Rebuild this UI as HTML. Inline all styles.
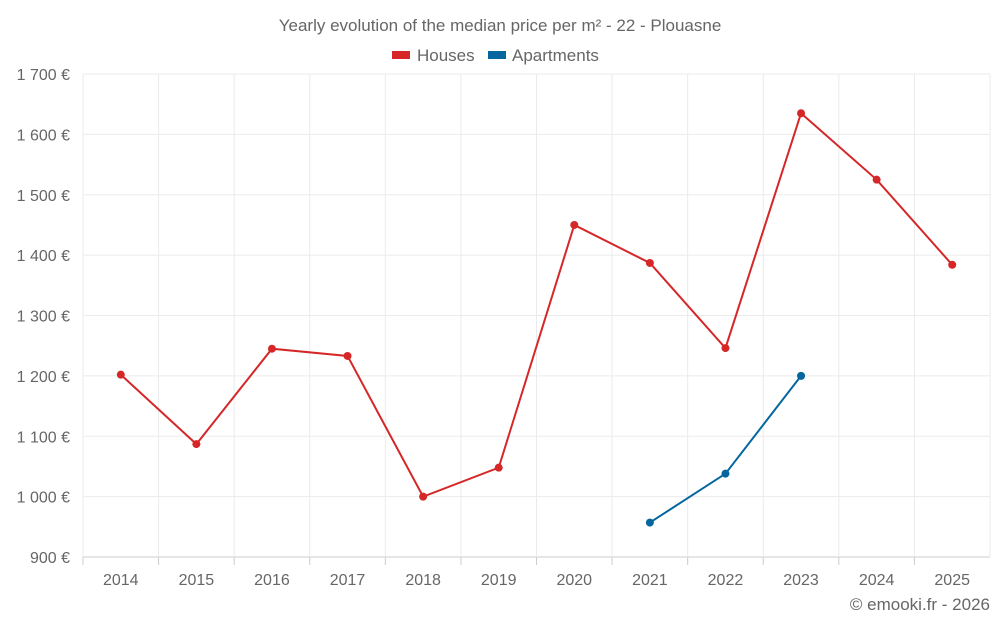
<!DOCTYPE html>
<html><head><meta charset="utf-8"><style>
body{margin:0;background:#fff;}
svg{display:block;font-family:"Liberation Sans",sans-serif;}
</style></head><body>
<svg id="chart" width="1000" height="625">
<text x="500" y="31" text-anchor="middle" font-size="17" fill="#666">Yearly evolution of the median price per m² - 22 - Plouasne</text>
<g><rect x="392" y="51" width="18" height="8" fill="#d62728"/><text x="417" y="61" font-size="17" fill="#666">Houses</text></g>
<g><rect x="488" y="51" width="18" height="8" fill="#03669e"/><text x="512" y="61" font-size="17" fill="#666">Apartments</text></g>
<g id="grid"></g><g id="axes"></g><g id="series"></g>
<text x="990" y="610" text-anchor="end" font-size="17" fill="#666">© emooki.fr - 2026</text>
</svg>
<script>
const categories=["2014","2015","2016","2017","2018","2019","2020","2021","2022","2023","2024","2025"];
const houses=[1202,1087,1245,1233,1000,1048,1450,1387,1246,1635,1525,1384];
const apartments=[null,null,null,null,null,null,null,957,1038,1200,null,null];
const yTicks=[900,1000,1100,1200,1300,1400,1500,1600,1700];
const yTickLabels=["900 €","1 000 €","1 100 €","1 200 €","1 300 €","1 400 €","1 500 €","1 600 €","1 700 €"];
const L=83,R=990,T=74,B=557,ymin=900,ymax=1700;
const NS="http://www.w3.org/2000/svg";
const bw=(R-L)/categories.length;
const x=i=>L+bw*(i+0.5);
const y=v=>B-(v-ymin)/(ymax-ymin)*(B-T);
function mk(tag,attrs,parent){const e=document.createElementNS(NS,tag);for(const k in attrs)e.setAttribute(k,attrs[k]);parent.appendChild(e);return e;}
const grid=document.getElementById('grid'),axes=document.getElementById('axes'),ser=document.getElementById('series');
yTicks.forEach((t,i)=>{
 const l=mk('line',{x1:L,x2:R,y1:y(t),y2:y(t),stroke:i==0?'#ccc':'#ebebeb','stroke-width':1},grid);
 
 
 const tx=mk('text',{x:70,y:y(t)+6,'text-anchor':'end','font-size':16,fill:'#666'},axes);
 tx.textContent=yTickLabels[i];
 
 
});
for(let i=0;i<=categories.length;i++){
 const l=mk('line',{x1:L+bw*i,x2:L+bw*i,y1:T,y2:B+(i==0?0:0),stroke:'#ebebeb','stroke-width':1},grid);
 
 
}
categories.forEach((c,i)=>{
 const tk=mk('line',{x1:L+bw*i,x2:L+bw*i,y1:B,y2:B+8,stroke:'#ccc'},axes);
 
 
 const tx=mk('text',{x:x(i),y:585,'text-anchor':'middle','font-size':16,fill:'#666'},axes);
 tx.textContent=c;
 
 
});
function draw(data,color,name){
 const pts=[];data.forEach((v,i)=>{if(v!=null)pts.push([x(i),y(v)]);});
 const p=mk('polyline',{points:pts.map(p=>p.join(',')).join(' '),fill:'none',stroke:color,'stroke-width':2},ser);
 
 
 pts.forEach(q=>{const c=mk('circle',{cx:q[0],cy:q[1],r:4,fill:color},ser);
 
 });
}
draw(houses,'#d62728','houses');
draw(apartments,'#03669e','apartments');
</script>
</body></html>
